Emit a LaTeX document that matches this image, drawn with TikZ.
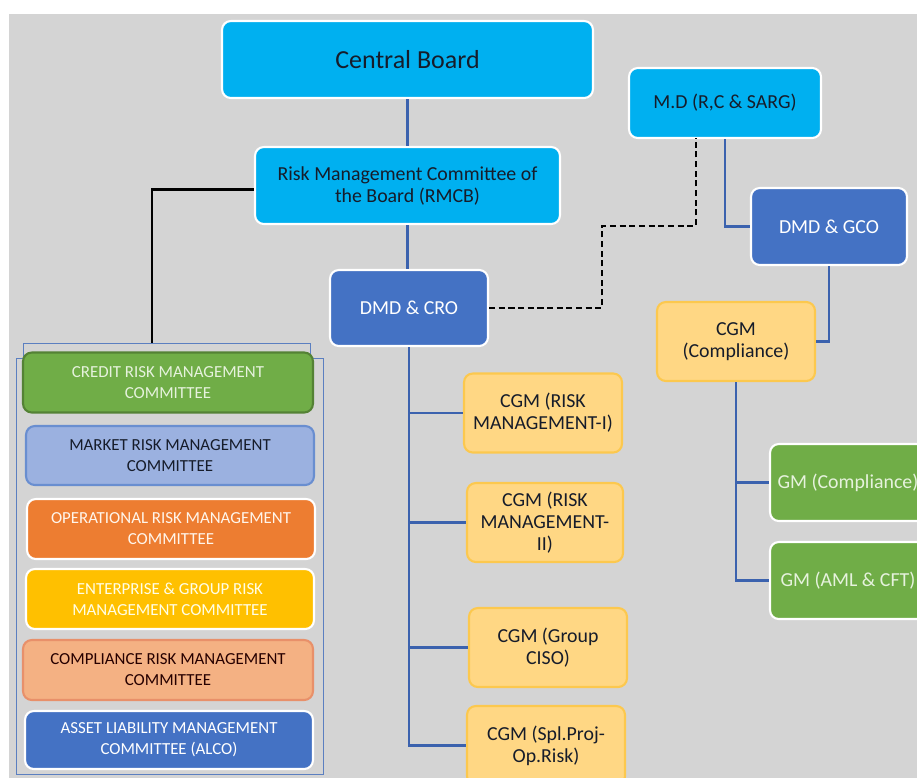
\documentclass[tikz,border=0pt]{standalone}
\usepackage{fontspec}
\setmainfont{Carlito}
\usepackage{tikz}
\usetikzlibrary{arrows}
\definecolor{skyblue}{HTML}{00B0F0}
\definecolor{royal}{HTML}{4472C4}
\definecolor{linkblue}{HTML}{3B62AE}
\definecolor{bggray}{HTML}{D4D4D4}
\definecolor{cgmfill}{HTML}{FFD784}
\definecolor{cgmline}{HTML}{FCC84E}
\definecolor{leaf}{HTML}{70AD47}
\definecolor{leafdark}{HTML}{548235}
\definecolor{leaftext}{HTML}{E6F2DD}
\definecolor{marketblue}{HTML}{9BB1E0}
\definecolor{opsorange}{HTML}{ED7D31}
\definecolor{amber}{HTML}{FFC000}
\definecolor{salmon}{HTML}{F4B183}
\definecolor{salmonline}{HTML}{E8906A}
\definecolor{panelline}{HTML}{5B7FC0}
\definecolor{inktext}{HTML}{161C2A}

\begin{document}
\begin{tikzpicture}[x=0.02cm, y=-0.02cm,
                    orgbox/.style={rectangle, align = center, rounded corners = 5pt,
                    line width = 1.2pt, inner sep = 2pt,
                    font = \fontsize{11.3}{12.5}\selectfont},
                    boardrect/.style={orgbox, draw = white, fill = skyblue, text = inktext},
                    dmdrect/.style={orgbox, draw = white, fill = royal, text = white},
                    cgmrect/.style={orgbox, draw = cgmline, fill = cgmfill, text = inktext,
                    minimum width = 3.16cm, minimum height = 1.58cm},
                    gmrect/.style={orgbox, draw = white, fill = leaf, text = leaftext,
                    minimum width = 3.12cm, minimum height = 1.54cm},
                    comrect/.style={orgbox, minimum width = 5.76cm, minimum height = 1.2cm,
                    font = \fontsize{9.6}{11.9}\selectfont},
                    linkarr/.style={draw = linkblue, line width = 1.5pt},
                    boardarr/.style={draw = black, line width = 1.5pt},
                    dotarr/.style={draw = black, line width = 0.7pt, dash pattern = on 3.5pt off 2pt}]

                    \useasboundingbox (0,0) rectangle (917,778);
                    \clip (0,0) rectangle (917,778);
                    \fill[white] (0,0) rectangle (917,778);
                    \fill[bggray] (9,14) rectangle (917,778);

                    % committee panel outlines
                    \draw[panelline, line width = 0.5pt] (23,358) |- (310,343) -- (310,358);
                    \draw[panelline, line width = 0.5pt] (16,358) rectangle (323,774);

                    \node[boardrect, minimum width = 7.42cm, minimum height = 1.54cm,
                          font = \fontsize{14.8}{17}\selectfont] (board) at (407.5,59.5) {Central Board};
                    \node[boardrect, minimum width = 6.1cm, minimum height = 1.54cm] (rmcb) at (407.5,185.5)
                          {Risk Management Committee of\\the Board (RMCB)};
                    \node[dmdrect, minimum width = 3.16cm, minimum height = 1.52cm] (cro) at (409,308) {DMD \& CRO};
                    \node[boardrect, minimum width = 3.84cm, minimum height = 1.4cm] (md) at (725,103) {M.D (R,C \& SARG)};
                    \node[dmdrect, minimum width = 3.12cm, minimum height = 1.54cm] (gco) at (829,226.5) {DMD \& GCO};
                    \node[cgmrect] (cgmcomp) at (736,341.5) {CGM\\(Compliance)};

                    \node[cgmrect] (cgmrm1) at (543,413) {CGM (RISK\\MANAGEMENT-I)};
                    \node[cgmrect, minimum width = 3.12cm] (cgmrm2) at (545,522.5) {CGM (RISK\\MANAGEMENT-\\II)};
                    \node[cgmrect] (cgmciso) at (548,647.5) {CGM (Group\\CISO)};
                    \node[cgmrect] (cgmspl) at (546,745.5) {CGM (Spl.Proj-\\Op.Risk)};

                    \node[gmrect] (gmcomp) at (848,482.5) {GM (Compliance)};
                    \node[gmrect] (gmaml) at (848,580.5) {GM (AML \& CFT)};

                    \node[comrect, draw = leafdark, fill = leaf, text = leaftext, minimum width = 5.8cm] (crmc) at (168,382.5)
                          {CREDIT RISK MANAGEMENT\\COMMITTEE};
                    \node[comrect, draw = royal!80, fill = marketblue, text = inktext, minimum height = 1.18cm] (mrmc) at (170,455.5)
                          {MARKET RISK MANAGEMENT\\COMMITTEE};
                    \node[comrect, draw = white, fill = opsorange, text = orange!8] (ormc) at (171,529)
                          {OPERATIONAL RISK MANAGEMENT\\COMMITTEE};
                    \node[comrect, draw = white, fill = amber, text = yellow!10] (egrmc) at (170,599)
                          {ENTERPRISE \& GROUP RISK\\MANAGEMENT COMMITTEE};
                    \node[comrect, draw = salmonline, fill = salmon, text = black!85!red, minimum width = 5.8cm] (crmc2) at (168,670)
                          {COMPLIANCE RISK MANAGEMENT\\COMMITTEE};
                    \node[comrect, draw = white, fill = royal, text = white, minimum height = 1.16cm] (alco) at (169,740)
                          {ASSET LIABILITY MANAGEMENT\\COMMITTEE (ALCO)};

                    \coordinate (pnltop) at (152,343);
                    \coordinate (dsha) at (602,226);
                    \coordinate (dshb) at (696,138);

                    \draw[linkarr] (board.south) -- (rmcb.north);
                    \draw[linkarr] (rmcb.south) -- (rmcb.south |- cro.north);
                    \draw[boardarr] ([yshift=-0.08cm]rmcb.west) -| (pnltop);
                    \draw[linkarr] (cro.south) |- (cgmrm1.west);
                    \draw[linkarr] (cro.south) |- (cgmrm2.west);
                    \draw[linkarr] (cro.south) |- (cgmciso.west);
                    \draw[linkarr] (cro.south) |- (cgmspl.west);
                    \draw[linkarr] (md.south) |- (gco.west);
                    \draw[linkarr] (gco.south) |- (cgmcomp.east);
                    \draw[linkarr] (cgmcomp.south) |- (gmcomp.west);
                    \draw[linkarr] (cgmcomp.south) |- (gmaml.west);
                    \draw[dotarr] (cro.east) -| (dsha) -| (dshb);
                    \end{tikzpicture}
\end{document}
